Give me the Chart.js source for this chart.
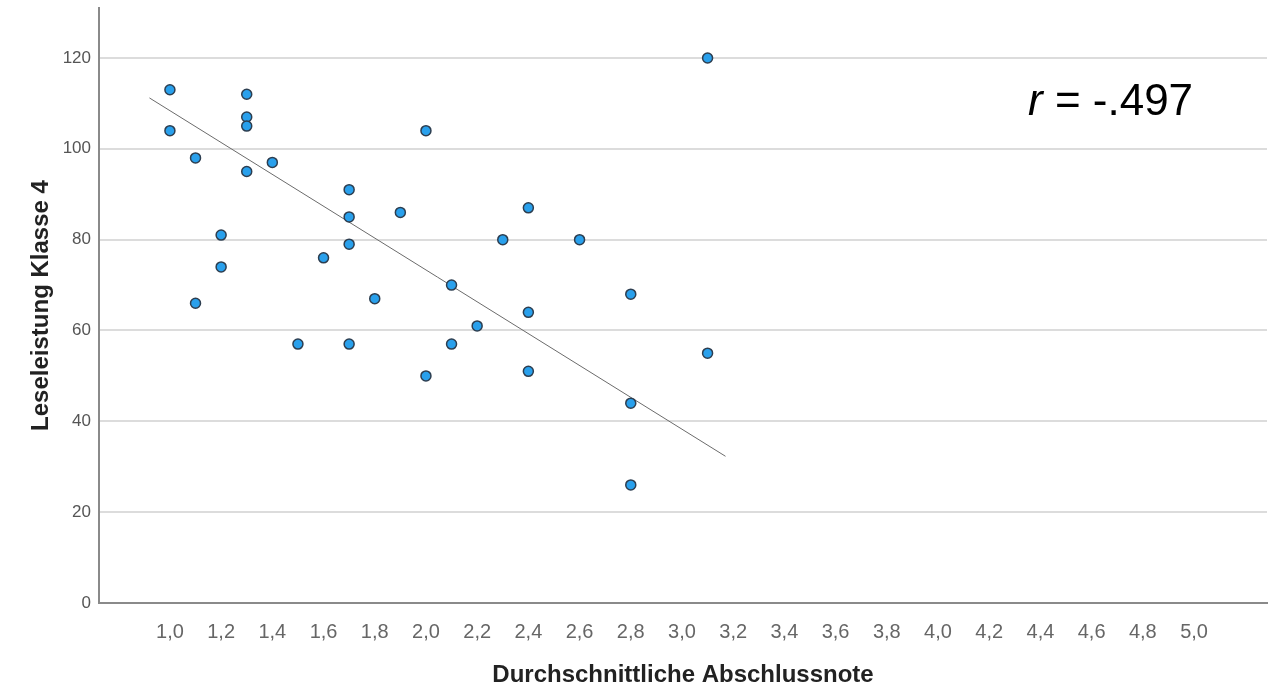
<!DOCTYPE html>
<html>
<head>
<meta charset="utf-8">
<script src="https://cdn.jsdelivr.net/npm/chart.js@4"></script>
<style>
  html, body { margin: 0; padding: 0; background: #fff; }
  #wrap { width: 1276px; height: 687px; position: relative; }
</style>
</head>
<body>
<div id="wrap"><canvas id="scatterChart"></canvas></div>
<script>
// Durchschnittliche Abschlussnote (x) vs. Leseleistung Klasse 4 (y)
const noten = [1.0, 1.0, 1.1, 1.1, 1.2, 1.2, 1.3, 1.3, 1.3, 1.3, 1.4, 1.5, 1.6, 1.7, 1.7, 1.7, 1.7,
               1.8, 1.9, 2.0, 2.0, 2.1, 2.1, 2.2, 2.3, 2.4, 2.4, 2.4, 2.6, 2.8, 2.8, 2.8, 3.1, 3.1];
const leseleistung = [113, 104, 98, 66, 81, 74, 112, 107, 105, 95, 97, 57, 76, 91, 85, 79, 57,
                      67, 86, 104, 50, 70, 57, 61, 80, 87, 64, 51, 80, 68, 44, 26, 120, 55];

// regression line end points
const fitX = [0.92, 3.17];
const fitY = [111.2, 32.3];

const xTicks = [1.0, 1.2, 1.4, 1.6, 1.8, 2.0, 2.2, 2.4, 2.6, 2.8, 3.0, 3.2, 3.4, 3.6, 3.8, 4.0, 4.2, 4.4, 4.6, 4.8, 5.0];
const yTicks = [0, 20, 40, 60, 80, 100, 120];
const rLabel = '-.497';

const points = noten.map((x, i) => ({ x: x, y: leseleistung[i] }));
const fitLine = fitX.map((x, i) => ({ x: x, y: fitY[i] }));

const FONT = '"Liberation Sans", Arial, sans-serif';

// draws "r = -.497" in the upper right
const rTextPlugin = {
    id: 'rText',
    afterDraw(chart) {
        const ctx = chart.ctx;
        ctx.save();
        ctx.fillStyle = '#000';
        ctx.textBaseline = 'alphabetic';
        let x = 1028;
        const y = 115;
        ctx.font = 'italic 44px ' + FONT;
        ctx.fillText('r', x, y);
        x += ctx.measureText('r').width;
        ctx.font = '44px ' + FONT;
        ctx.fillText(' = ' + rLabel, x, y);
        ctx.restore();
    }
};

new Chart(document.getElementById('scatterChart'), {
    type: 'scatter',
    data: {
        datasets: [
            {
                label: 'Leseleistung',
                data: points,
                backgroundColor: 'rgb(41, 160, 236)',
                borderColor: 'rgb(45, 62, 80)',
                borderWidth: 1.5,
                pointRadius: 5,
                pointHoverRadius: 5,
                order: 1
            },
            {
                label: 'Fit',
                type: 'line',
                data: fitLine,
                borderColor: '#6b6b6b',
                borderWidth: 1,
                pointRadius: 0,
                fill: false,
                order: 2
            }
        ]
    },
    options: {
        responsive: true,
        maintainAspectRatio: false,
        animation: false,
        layout: { padding: { top: 8, right: 9, left: 0, bottom: 0 } },
        plugins: {
            legend: { display: false },
            tooltip: { enabled: false }
        },
        scales: {
            x: {
                type: 'linear',
                min: 0.723,
                max: 5.285,
                afterFit: axis => {
                    axis.height = 84;
                    axis.paddingLeft = 0;
                    axis.paddingRight = 0;
                },
                afterBuildTicks: axis => { axis.ticks = xTicks.map(v => ({ value: v })); },
                grid: { drawOnChartArea: false, drawTicks: false },
                border: { display: true, color: '#8a8a8a', width: 2 },
                ticks: {
                    padding: 17,
                    color: '#666',
                    font: { family: FONT, size: 20 },
                    maxRotation: 0,
                    autoSkip: false,
                    callback: v => v.toFixed(1).replace('.', ',')
                },
                title: {
                    display: true,
                    text: 'Durchschnittliche Abschlussnote',
                    color: '#222',
                    font: { family: FONT, size: 24, weight: 'bold', lineHeight: 1 },
                    padding: { top: 0, bottom: 0 }
                }
            },
            y: {
                min: 0,
                max: 131,
                afterFit: axis => {
                    axis.width = 99;
                    axis.paddingTop = 0;
                    axis.paddingBottom = 0;
                },
                afterBuildTicks: axis => { axis.ticks = yTicks.map(v => ({ value: v })); },
                grid: { color: '#dcdcdc', lineWidth: 2, drawTicks: false },
                border: { display: true, color: '#8a8a8a', width: 2 },
                ticks: {
                    padding: 8,
                    color: '#555',
                    font: { family: FONT, size: 17 }
                },
                title: {
                    display: true,
                    text: 'Leseleistung Klasse 4',
                    color: '#222',
                    font: { family: FONT, size: 24, weight: 'bold', lineHeight: 1 },
                    padding: { top: 29, bottom: 0 }
                }
            }
        }
    },
    plugins: [rTextPlugin]
});
</script>
</body>
</html>
